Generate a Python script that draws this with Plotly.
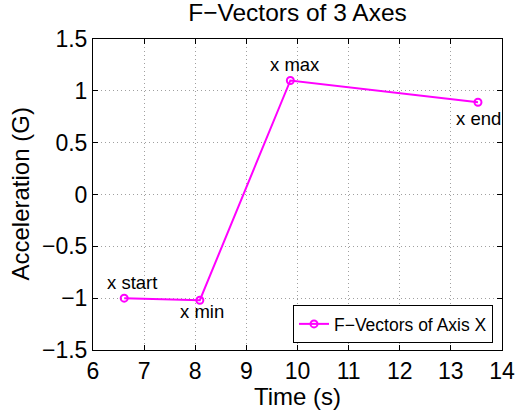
import plotly.graph_objects as go

# Data
time_s = [6.61, 8.09, 9.86, 13.53]
accel_g = [-1.0, -1.02, 1.10, 0.89]
point_labels = ["x start", "x min", "x max", "x end"]
series_name = "F\u2212Vectors of Axis X"
x_ticks = [6, 7, 8, 9, 10, 11, 12, 13, 14]
y_ticks = [-1.5, -1, -0.5, 0, 0.5, 1, 1.5]
y_tick_text = ["\u22121.5", "\u22121", "\u22120.5", "0", "0.5", "1", "1.5"]

# Label offsets (px) for annotations
label_shifts = [(8, 16), (2, -11), (5, 16), (1, -16)]

FONT = "Liberation Sans, Arial, Helvetica, sans-serif"
MAGENTA = "#FF00FF"

fig = go.Figure()
fig.add_trace(go.Scatter(
    x=time_s, y=accel_g, mode="lines+markers", name=series_name,
    line=dict(color=MAGENTA, width=2),
    marker=dict(symbol="circle-open", size=7, color=MAGENTA, line=dict(width=2, color=MAGENTA)),
))

for xv, yv, txt, (dx, dy) in zip(time_s, accel_g, point_labels, label_shifts):
    fig.add_annotation(x=xv, y=yv, text=txt, showarrow=False, xshift=dx, yshift=dy,
                       font=dict(family=FONT, size=18.5, color="black"))

# Axis titles as annotations for precise placement
fig.add_annotation(xref="paper", yref="paper", x=0.5, y=0, text="Time (s)", showarrow=False,
                   xanchor="center", yanchor="middle", yshift=-46,
                   font=dict(family=FONT, size=24, color="black"))
fig.add_annotation(xref="paper", yref="paper", x=0, y=0.5, text="Acceleration (G)", showarrow=False,
                   xanchor="center", yanchor="middle", xshift=-73, textangle=-90,
                   font=dict(family=FONT, size=24, color="black"))

axis_common = dict(
    showline=True, linecolor="black", linewidth=1, mirror="allticks",
    ticks="inside", ticklen=5, tickcolor="black", tickwidth=1,
    showgrid=True, gridcolor="#a0a0a0", griddash="1px,3px", gridwidth=1,
    zeroline=False, tickfont=dict(family=FONT, size=23, color="black"),
)

fig.update_layout(
    width=516, height=413,
    margin=dict(l=93, r=14, t=39, b=63, autoexpand=False),
    paper_bgcolor="white", plot_bgcolor="white",
    title=dict(text="F\u2212Vectors of 3 Axes", x=0.5, xanchor="center", y=0.97, yanchor="middle",
               xref="paper", font=dict(family=FONT, size=24.5, color="black")),
    xaxis=dict(range=[6, 14], tickvals=x_ticks, automargin=False, **axis_common),
    yaxis=dict(range=[-1.5, 1.5], tickvals=y_ticks, ticktext=y_tick_text, automargin=False, **axis_common),
    showlegend=True,
    legend=dict(x=0.978, y=0.0225, xanchor="right", yanchor="bottom",
                bordercolor="black", borderwidth=1, bgcolor="white", tracegroupgap=0,
                font=dict(family=FONT, size=17.5, color="black")),
)

fig.write_html("out.html")
